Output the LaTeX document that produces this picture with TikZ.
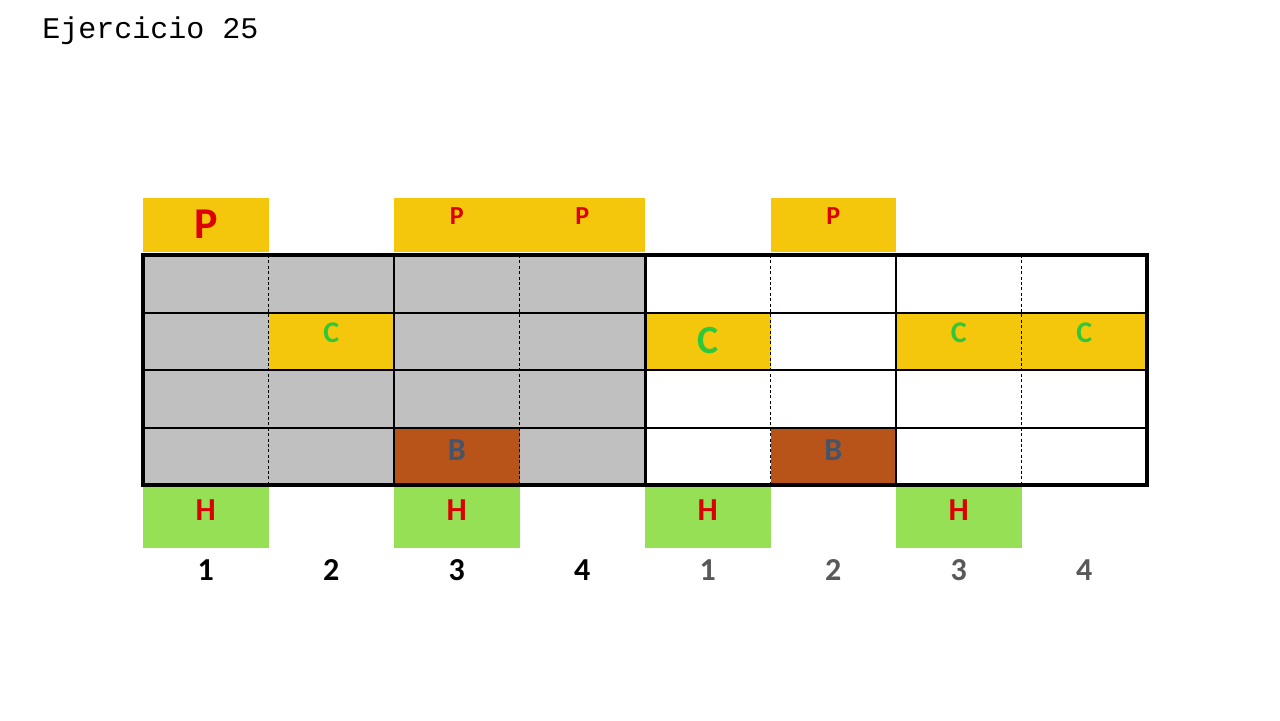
\documentclass[tikz,border=0pt]{standalone}
\usepackage{fontspec}
\setmainfont{Carlito}
\newfontfamily\monof{Liberation Mono}
\definecolor{ygold}{HTML}{F5C70C}
\definecolor{cgray}{HTML}{C0C0C0}
\definecolor{brownc}{HTML}{B8541A}
\definecolor{greenbox}{HTML}{95E055}
\definecolor{redt}{HTML}{DD0000}
\definecolor{greent}{HTML}{2FC83A}
\definecolor{bluet}{HTML}{44546A}
\definecolor{grayt}{HTML}{595959}
\tikzset{
  lbl/.style={font=\bfseries\fontsize{#1}{#1}\selectfont, inner sep=0pt},
  ptxt/.style={lbl=#1, text=redt},
  ctxt/.style={lbl=#1, text=greent},
  btxt/.style={lbl=16, text=bluet},
  htxt/.style={lbl=16, text=redt},
  num/.style={lbl=16},
  dashv/.style={line width=0.5pt, dash pattern=on 1.5pt off 1.2pt},
  solidh/.style={line width=1pt},
}
\begin{document}
\begin{tikzpicture}[x=0.5pt,y=-0.5pt]
\useasboundingbox (0,0) rectangle (1280,720);
\fill[white] (0,0) rectangle (1280,720);
\node[anchor=west, inner sep=0pt, font=\monof\fontsize{15}{18}\selectfont] (title) at (42,31) {Ejercicio 25};
% top P boxes
\fill[ygold] (143,198) rectangle (268.5,252);
\fill[ygold] (394,198) rectangle (645,252);
\fill[ygold] (770.5,198) rectangle (896,252);
\node[ptxt=22] (p1) at (205.75,224) {P};
\node[ptxt=13] (p3) at (456.75,216) {P};
\node[ptxt=13] (p4) at (582.25,216) {P};
\node[ptxt=13] (p6) at (833.25,216) {P};
% fills in grid
\fill[cgray] (143,255) rectangle (645,485);
\fill[ygold] (268.5,313) rectangle (394,370);
\fill[brownc] (394,427.5) rectangle (519.5,485);
\fill[ygold] (645,313) rectangle (770.5,370);
\fill[ygold] (896,313) rectangle (1147,370);
\fill[brownc] (770.5,427.5) rectangle (896,485);
\node[ctxt=15] (c2) at (331.25,333) {C};
\node[ctxt=20] (c5) at (707.75,341) {C};
\node[ctxt=15] (c7) at (958.75,333) {C};
\node[ctxt=15] (c8) at (1084.25,333) {C};
\node[btxt] (b3) at (456.75,450) {B};
\node[btxt] (b6) at (833.25,450) {B};
% grid lines
\foreach \y in {313,370,427.5} \draw[solidh] (143,\y) -- (1147,\y);
\foreach \x in {268.5,519.5,770.5,1021.5} \draw[dashv] (\x,255) -- (\x,485);
\foreach \x in {394,896} \draw[solidh] (\x,255) -- (\x,485);
\draw[line width=1.5pt] (645,255) -- (645,485);
\draw[line width=1.6pt] (143,255) rectangle (1147,485);
% H boxes
\fill[greenbox] (143,487) rectangle (268.5,548);
\fill[greenbox] (394,487) rectangle (519.5,548);
\fill[greenbox] (645,487) rectangle (770.5,548);
\fill[greenbox] (896,487) rectangle (1021.5,548);
\node[htxt] (h1) at (205.75,510) {H};
\node[htxt] (h3) at (456.75,510) {H};
\node[htxt] (h5) at (707.75,510) {H};
\node[htxt] (h7) at (958.75,510) {H};
% numbers
\node[num] (n1) at (205.75,570) {1};
\node[num] (n2) at (331.25,570) {2};
\node[num] (n3) at (456.75,570) {3};
\node[num] (n4) at (582.25,570) {4};
\node[num, text=grayt] (n5) at (707.75,570) {1};
\node[num, text=grayt] (n6) at (833.25,570) {2};
\node[num, text=grayt] (n7) at (958.75,570) {3};
\node[num, text=grayt] (n8) at (1084.25,570) {4};
\end{tikzpicture}
\end{document}
